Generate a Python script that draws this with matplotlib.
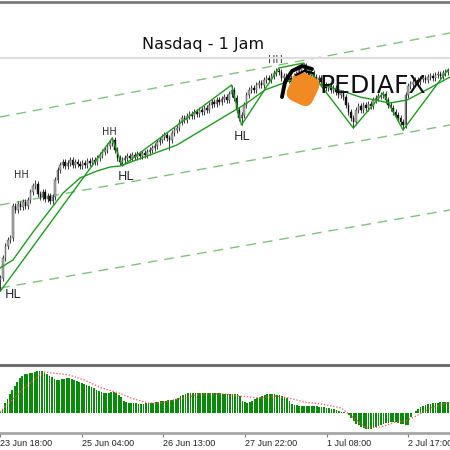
import numpy as np
import matplotlib.pyplot as plt
from matplotlib.lines import Line2D
from matplotlib.patches import FancyBboxPatch
from matplotlib.transforms import Affine2D

# hourly closes, Nasdaq (bar 0 = 23 Jun 18:00)
first_open = 19835
closes = [
    19820, 19822, 19842, 19854, 19860, 19862, 19894, 19890, 19896, 19893,
    19898, 19894, 19900, 19908, 19914, 19916, 19906, 19903, 19908, 19901,
    19904, 19899, 19903, 19920, 19930, 19935, 19938, 19934, 19937, 19940,
    19935, 19938, 19936, 19934, 19937, 19935, 19939, 19937, 19940, 19938,
    19942, 19945, 19948, 19950, 19954, 19957, 19960, 19950, 19942, 19938,
    19940, 19942, 19944, 19942, 19945, 19943, 19946, 19944, 19947, 19945,
    19948, 19950, 19952, 19954, 19958, 19960, 19963, 19965, 19962, 19960,
    19967, 19970, 19972, 19978, 19982, 19980, 19984, 19986, 19984, 19988,
    19986, 19990, 19988, 19992, 19990, 19995, 19998, 19996, 20000, 19998,
    20001, 20003, 20000, 20006, 20010, 20002, 19990, 19982, 19985, 19995,
    20005, 20010, 20012, 20010, 20015, 20017, 20015, 20020, 20022, 20020,
    20024, 20027, 20029, 20028, 20022, 20024, 20020, 20022, 20018, 20024,
    20026, 20030, 20032, 20034, 20028, 20025, 20027, 20023, 20020, 20022,
    20018, 20015, 20012, 20014, 20010, 20012, 20008, 20005, 20007, 20003,
    19995, 19988, 19982, 19978, 19990, 19994, 19990, 19995, 19992, 19996,
    19994, 20000, 20002, 20004, 20005, 20006, 20000, 19995, 19992, 19988,
    19985, 19982, 19978, 19975, 20005, 20014, 20016, 20018, 20020, 20018,
    20021, 20022, 20020, 20023, 20024, 20022, 20025, 20026, 20024, 20027,
    20028, 20029,
]
# long wicks seen on the chart
spike_bars = [15, 69]
spike_prices = [19920, 19950]

# zigzag pivots
zz_bars = [1, 46, 50, 94, 98, 113, 123, 143, 155, 163, 181]
zz_prices = [19809, 19962, 19934, 20015, 19975, 20032, 20037, 19972, 20007, 19970, 20030]

# moving average
ma_bars = [0.8, 6.0, 14.1, 26.2, 33.0, 39.8, 45.1, 49.1, 72.0, 100.2, 107.4, 120.3,
           133.6, 145.7, 157.7, 164.6, 173.8, 181.9]
ma_vals = [19832, 19840, 19868, 19907, 19922, 19929, 19933, 19934, 19955, 19997, 20010,
           20022, 20013, 20003, 19997, 20000, 20012, 20023]

# regression channel (start bar, end bar) and prices of its three lines
chan_bars = [0.8, 181.9]
chan_top = [19983, 20067]
chan_mid = [19895, 19975]
chan_bot = [19812, 19890]

# HH / HL marks
mark_text = ['HL', 'HH', 'HH', 'HL', 'HL', 'HH']
mark_bars = [6.0, 9.3, 44.7, 51.5, 98.2, 111.5]
mark_prices = [19805, 19925, 19968, 19924, 19963, 20040]

# MACD histogram and signal
macd_hist = [
    1, 4, 10, 14, 19, 23, 27, 31, 35, 37,
    39, 39, 40, 40, 41, 42, 42, 42, 40, 39,
    37, 36, 34, 33, 33, 34, 34, 35, 35, 34,
    33, 32, 31, 30, 29, 28, 27, 26, 25, 23,
    22, 21, 20, 20, 20, 21, 21, 20, 18, 16,
    12, 11, 10, 10, 10, 10, 9, 9, 9, 10,
    10, 10, 10, 11, 11, 12, 12, 12, 13, 13,
    13, 14, 15, 17, 18, 19, 20, 20, 20, 20,
    20, 20, 20, 20, 20, 20, 20, 20, 20, 20,
    19, 19, 19, 19, 19, 19, 19, 17, 12, 11,
    10, 11, 12, 14, 15, 16, 17, 18, 19, 19,
    19, 19, 18, 18, 17, 16, 15, 12, 9, 8,
    8, 7, 7, 7, 7, 7, 7, 7, 7, 6,
    6, 6, 5, 5, 4, 4, 3, 2, 1, 1,
    0, -2, -5, -8, -11, -12, -14, -15, -16, -16,
    -16, -15, -14, -13, -12, -11, -10, -10, -9, -9,
    -9, -10, -11, -11, -12, -12, -4, 0, 2, 4,
    6, 7, 8, 9, 9, 10, 10, 10, 11, 11,
    11, 11,
]
signal_bars = [0, 9, 16, 18, 28, 34, 41, 48, 54, 60, 65, 70, 76, 81, 91, 97, 105, 111,
               117, 123, 130, 138, 142, 148, 154, 160, 164, 169, 174, 181]
signal_vals = [1, 23, 38, 41, 38, 33, 25, 20, 14, 10, 10, 13, 16, 19, 19, 17, 15, 17,
               15, 11, 9, 5, -3, -15, -14, -9, -8, -2, 5, 10]

tick_bars = [0, 33, 66, 99, 132, 165]
tick_labels = ['23 Jun 18:00', '25 Jun 04:00', '26 Jun 13:00',
               '27 Jun 22:00', '1 Jul 08:00', '2 Jul 17:00']

# ---------------------------------------------------------------
closes = np.array(closes, dtype=float)
opens = np.concatenate([[first_open], closes[:-1]])
bars = np.arange(len(closes))
highs = np.maximum(opens, closes) + 3
lows = np.minimum(opens, closes) - 3
for b, p in zip(zz_bars + spike_bars, zz_prices + spike_prices):
    if p > max(opens[b], closes[b]):
        highs[b] = max(highs[b], p)
    else:
        lows[b] = min(lows[b], p)

fig = plt.figure(figsize=(4.5, 4.5), dpi=100)
fig.patch.set_facecolor('white')

H = 450.0
ax = fig.add_axes([0, (H - 365) / H, 1, (365 - 1.5) / H])
ax.set_xlim(0.8, 181.9)
ax.set_ylim(19735, 20098.5)
for s in ['left', 'right', 'bottom']:
    ax.spines[s].set_visible(False)
ax.spines['top'].set_color('#7a7a7a')
ax.spines['top'].set_linewidth(2)
ax.set_xticks([])
ax.set_yticks([])

# light separator under the title
fig.add_artist(Line2D([0, 1], [1 - 57.5 / H] * 2, color='#dedede', lw=1.6))

# channel
for line in [chan_top, chan_mid, chan_bot]:
    ax.axline((chan_bars[0], line[0]), (chan_bars[1], line[1]), color='#7cc47c',
              lw=1.0, ls=(0, (7, 5)), zorder=1)

# candles
up = closes >= opens
ax.vlines(bars, lows, highs, color='#3a3a3a', lw=0.7, zorder=2)
body_lo = np.minimum(opens, closes)
body_h = np.maximum(np.abs(closes - opens), 0.8)
ax.bar(bars[up], body_h[up], bottom=body_lo[up], width=0.6, color='#b0b0b0',
       edgecolor='#3a3a3a', lw=0.3, zorder=3)
ax.bar(bars[~up], body_h[~up], bottom=body_lo[~up], width=0.6, color='#111111',
       edgecolor='#111111', lw=0.3, zorder=3)

# average and zigzag
ax.plot(ma_bars, ma_vals, color='#1f9a1f', lw=1.0, zorder=4)
ax.plot(zz_bars, zz_prices, color='#1f9a1f', lw=1.0, zorder=4)

for t, b, p in zip(mark_text, mark_bars, mark_prices):
    ax.text(b, p, t, ha='center', va='center', color='#2b2b2b',
            fontsize=9 if t == 'HL' else 7, zorder=6)

# title
fig.text(203 / H, 1 - 44 / H, 'Nasdaq - 1 Jam', ha='center', va='center',
         fontsize=11.5, color='#111111')

# watermark logo
cx, cy = 303 / H, 1 - 89 / H
logo = FancyBboxPatch((cx - 0.031, cy - 0.034), 0.062, 0.068,
                      boxstyle='round,pad=0,rounding_size=0.02',
                      fc='#f28a24', ec='none',
                      transform=Affine2D().rotate_deg_around(cx, cy, -25) + fig.transFigure,
                      zorder=10)
fig.add_artist(logo)
fig.add_artist(Line2D(np.array([282, 285, 292, 302, 312]) / H,
                      1 - np.array([97, 82, 71, 66, 69]) / H,
                      color='black', lw=2.8, solid_capstyle='round', zorder=11))
fig.add_artist(Line2D(np.array([296, 304, 313]) / H,
                      1 - np.array([75, 71, 73]) / H,
                      color='black', lw=1.6, solid_capstyle='round', zorder=11))
fig.text(319 / H, 1 - 86 / H, 'PEDIAFX', ha='left', va='center', fontsize=18,
         color='#111111', zorder=12)

# MACD panel
ax2 = fig.add_axes([0, (H - 433) / H, 1, (433 - 365) / H])
ax2.set_xlim(0.8, 181.9)
ax2.set_ylim(-20, 48)
ax2.bar(bars, macd_hist, width=0.72, color='#0a8a0a', zorder=2)
ax2.plot(signal_bars, signal_vals, color='#ff5050', lw=0.9, ls=(0, (1, 1.5)), zorder=3)
for s in ['left', 'right']:
    ax2.spines[s].set_visible(False)
ax2.spines['top'].set_color('#6e6e6e')
ax2.spines['top'].set_linewidth(2.2)
ax2.spines['bottom'].set_color('#a6a6a6')
ax2.spines['bottom'].set_linewidth(2)
ax2.set_yticks([])
ax2.set_xticks(tick_bars)
ax2.set_xticklabels(tick_labels, fontsize=6.5, family='Liberation Sans', color='#222222')
ax2.tick_params(axis='x', length=3, width=0.8, color='#7a7a7a', pad=1.5)
for lab in ax2.get_xticklabels():
    lab.set_horizontalalignment('left')

fig.savefig('out.png', dpi=100, facecolor='white')
